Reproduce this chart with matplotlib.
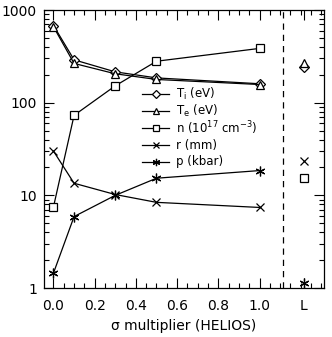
import matplotlib
matplotlib.use("Agg")
import matplotlib.pyplot as plt
from matplotlib.ticker import MultipleLocator, FixedLocator, NullFormatter, LogLocator

plt.rcParams['font.family'] = ['DejaVu Sans']
plt.rcParams['mathtext.fontset'] = 'dejavusans'
plt.rcParams['mathtext.default'] = 'regular'

sigma = [0.0, 0.1, 0.3, 0.5, 1.0]
Ti = [680, 290, 215, 185, 160]
Te = [660, 265, 205, 178, 157]
n = [7.5, 73, 152, 280, 385]
r = [30, 13.5, 10.2, 8.4, 7.4]
p = [1.45, 5.9, 10.0, 15.3, 18.5]

L_pos = 1.215
L_Ti = 245
L_Te = 268
L_n = 15.2
L_r = 23.5
L_p = 1.12
divider = 1.115

labels = ["T$_i$ (eV)", "T$_e$ (eV)", "n (10$^{17}$ cm$^{-3}$)", "r (mm)", "p (kbar)"]
xticks = [0.0, 0.2, 0.4, 0.6, 0.8, 1.0, L_pos]
xticklabels = ["0.0", "0.2", "0.4", "0.6", "0.8", "1.0", "L"]

W, H = 332, 337
fig = plt.figure(figsize=(W/100, H/100), dpi=100)
ax_l, ax_r, ax_t, ax_b = 44, 324, 10, 288
ax = fig.add_axes([ax_l/W, (H-ax_b)/H, (ax_r-ax_l)/W, (ax_b-ax_t)/H])

fs = 10
lw = 0.9
styles = [
    dict(marker='D', ms=5.0),
    dict(marker='^', ms=6.0),
    dict(marker='s', ms=6.0),
    dict(marker='x', ms=6.0),
    dict(marker=(6, 2, 0), ms=7.0),
]
series = [Ti, Te, n, r, p]
Lvals = [L_Ti, L_Te, L_n, L_r, L_p]
for s, lv, st in zip(series, Lvals, styles):
    ax.plot(sigma, s, color='black', lw=lw, mfc='white', mec='black', mew=0.9, **st)
    ax.plot([L_pos], [lv], color='black', lw=0, mfc='white', mec='black', mew=0.9, **st)

# legend drawn manually (evenly spaced rows)
def fx(px):
    return (px - ax_l) / (ax_r - ax_l)
def fy(py):
    return (ax_b - py) / (ax_b - ax_t)
for i, (st, lab) in enumerate(zip(styles, labels)):
    yp = 94 + 17 * i
    ax.plot([fx(142), fx(169)], [fy(yp), fy(yp)], transform=ax.transAxes, color='black', lw=lw)
    st2 = dict(st)
    st2['ms'] = st['ms'] * 0.75
    ax.plot([fx(155.5)], [fy(yp)], transform=ax.transAxes, color='black', lw=0,
            mfc='white', mec='black', mew=0.9, **st2)
    ax.text(fx(176), fy(yp), lab, transform=ax.transAxes, fontsize=8.5, va='center', ha='left')

ax.axvline(divider, color='black', lw=0.9, ls=(0, (5, 4)))

ax.set_yscale('log')
ax.set_ylim(1, 1000)
ax.set_xlim(-0.046, 1.313)
ax.xaxis.set_major_locator(FixedLocator(xticks))
ax.set_xticklabels(xticklabels, fontsize=fs)
ax.xaxis.set_minor_locator(MultipleLocator(0.05))
ax.yaxis.set_minor_locator(LogLocator(base=10, subs=range(2, 10)))
ax.yaxis.set_minor_formatter(NullFormatter())
ax.set_yticks([1, 10, 100, 1000])
ax.set_yticklabels(["1", "10", "100", "1000"], fontsize=fs)
ax.tick_params(which='both', direction='in', top=True, right=True, width=0.8)
ax.tick_params(which='major', length=7, pad=5)
ax.tick_params(which='major', axis='x', pad=8)
ax.tick_params(which='minor', length=3.5)
for sp in ax.spines.values():
    sp.set_linewidth(0.9)

ax.set_xlabel("σ multiplier (HELIOS)", fontsize=fs, labelpad=4)

fig.savefig("out.png", dpi=100)
